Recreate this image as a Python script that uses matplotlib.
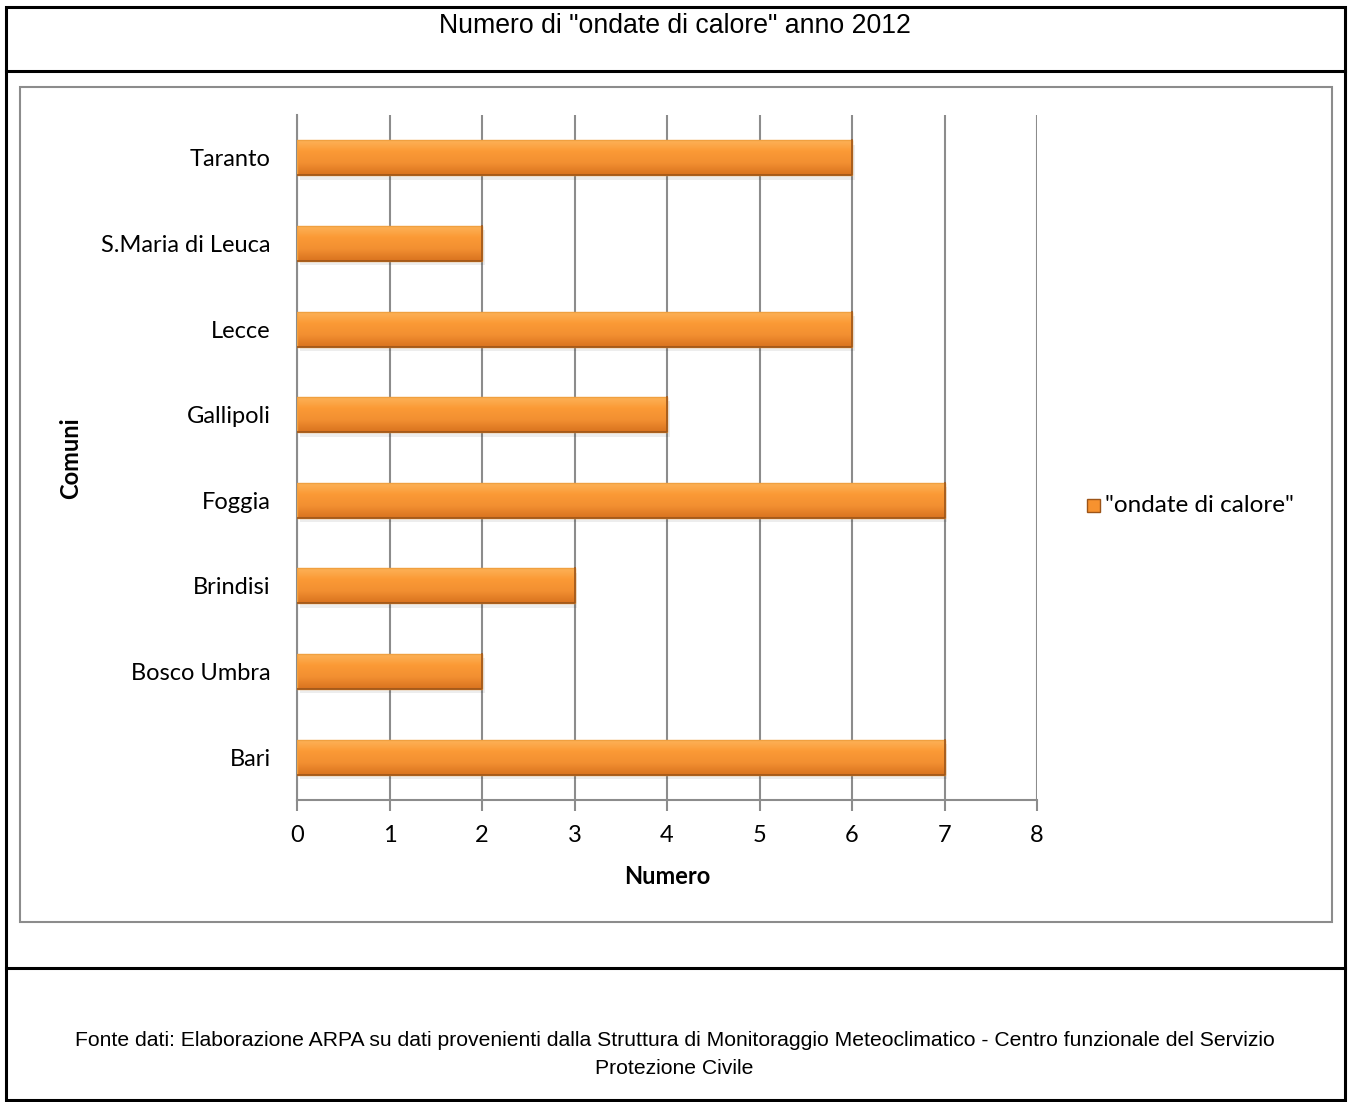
import numpy as np
import matplotlib.pyplot as plt
from matplotlib.patches import Rectangle
from matplotlib.lines import Line2D
from matplotlib.colors import LinearSegmentedColormap

comuni = ['Bari', 'Bosco Umbra', 'Brindisi', 'Foggia', 'Gallipoli', 'Lecce',
          'S.Maria di Leuca', 'Taranto']
ondate = [7, 2, 3, 7, 4, 6, 2, 6]
x_ticks = [0, 1, 2, 3, 4, 5, 6, 7, 8]

W, H = 1349, 1102
fig = plt.figure(figsize=(W / 100, H / 100), dpi=100)

def fx(px):
    return px / W

def fy(py):
    return 1 - py / H

# table frame around everything
fig.add_artist(Rectangle((fx(6), fy(1100)), fx(1339), fy(7) - fy(1100),
                         transform=fig.transFigure, fill=False, ec='black', lw=2.2))
for yy in [71, 968]:
    fig.add_artist(Line2D([fx(6), fx(1345)], [fy(yy), fy(yy)],
                          transform=fig.transFigure, color='black', lw=2.2))
# chart area frame
fig.add_artist(Rectangle((fx(20), fy(922)), fx(1312), fy(87) - fy(922),
                         transform=fig.transFigure, fill=False, ec='#8c8c8c', lw=1.5))

fig.text(0.5, fy(26), 'Numero di "ondate di calore" anno 2012', ha='center', va='center',
         fontsize=19.2, family='Liberation Sans')
fig.text(0.5, fy(1054), 'Fonte dati: Elaborazione ARPA su dati provenienti dalla Struttura di '
         'Monitoraggio Meteoclimatico - Centro funzionale del Servizio\nProtezione Civile',
         ha='center', va='center', fontsize=15.2, family='Liberation Sans', linespacing=1.6)

ax = fig.add_axes([fx(297), fy(800), fx(1037) - fx(297), fy(115) - fy(800)])
y = np.arange(len(comuni))
bh = 0.41

cmap = LinearSegmentedColormap.from_list('arancio', ['#fdb45a', '#fb9a36', '#f28f31', '#d9731f'])
grad = np.linspace(0, 1, 64).reshape(-1, 1)
for i, v in enumerate(ondate):
    # soft shadow
    ax.add_patch(Rectangle((0.03, i - bh / 2 - 0.05), v, bh, color='#000000', alpha=0.07,
                           lw=0, zorder=2))
    bar = ax.barh(i, v, height=bh, color='#f7922f', edgecolor='none', zorder=3)[0]
    im = ax.imshow(grad, cmap=cmap, aspect='auto', extent=[0, v, i - bh / 2, i + bh / 2],
                   zorder=3.5)
    im.set_clip_path(bar)
    ax.add_patch(Rectangle((0, i - bh / 2), v, bh, fill=False, ec='#f0a040', lw=1, zorder=4))
    ax.plot([0, v, v], [i - bh / 2, i - bh / 2, i + bh / 2], color='#9c5418', lw=1.2, zorder=4.5)

ax.set_xlim(0, 8)
ax.set_ylim(-0.5, len(comuni) - 0.5)
ax.set_xticks(x_ticks)
ax.set_yticks(y)
ax.set_yticklabels(comuni)
ax.grid(axis='x', color='#8c8c8c', lw=1.5, zorder=0)
ax.set_axisbelow(True)
for s in ['top', 'right']:
    ax.spines[s].set_visible(False)
for s in ['left', 'bottom']:
    ax.spines[s].set_color('#8c8c8c')
    ax.spines[s].set_linewidth(1.5)
ax.tick_params(axis='x', length=8, width=1.5, color='#8c8c8c', labelsize=17, pad=10)
ax.tick_params(axis='y', length=0, labelsize=17, pad=19)
for t in ax.get_xticklabels() + ax.get_yticklabels():
    t.set_family('Lato')

ax.set_xlabel('Numero', fontsize=17, fontweight='bold', family='Lato', labelpad=14)
fig.text(fx(71), fy(458), 'Comuni', rotation=90, ha='center', va='center',
         fontsize=17, fontweight='bold', family='Lato')

# legend
fig.add_artist(Rectangle((fx(1087), fy(512)), fx(13), fy(499) - fy(512),
                         transform=fig.transFigure, fc='#f7922f', ec='#9c5418', lw=1))
fig.text(fx(1105), fy(505), '"ondate di calore"', ha='left', va='center',
         fontsize=17.5, family='Lato')

fig.savefig('out.png', dpi=100)
